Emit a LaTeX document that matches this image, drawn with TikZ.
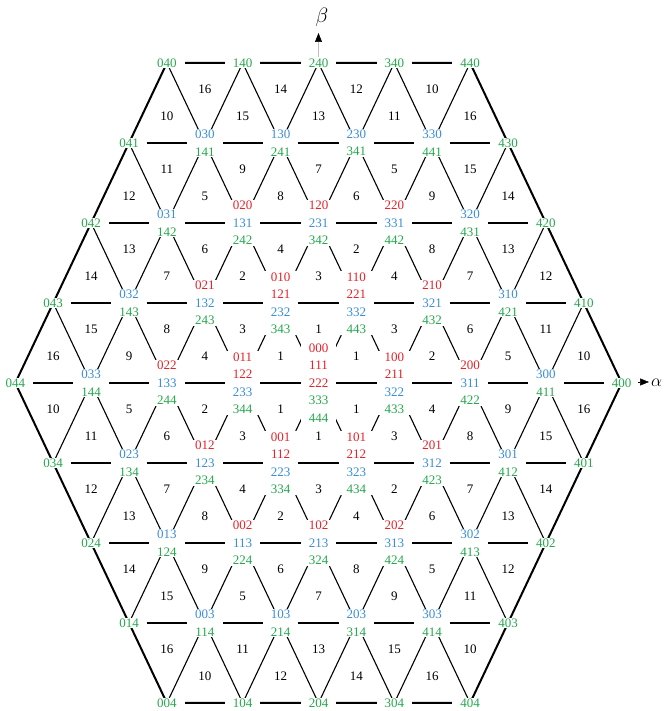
\documentclass[tikz,border=0pt]{standalone}
\usepackage{fontspec}
\setmainfont{Liberation Serif}
\usetikzlibrary{arrows.meta}
\definecolor{vr}{RGB}{232,32,40}
\definecolor{vb}{RGB}{58,142,214}
\definecolor{vg}{RGB}{38,168,78}
\newcommand\cR[1]{\textcolor{vr}{#1}}
\newcommand\cB[1]{\textcolor{vb}{#1}}
\newcommand\cG[1]{\textcolor{vg}{#1}}
\newcommand\vxx[3]{\coordinate (v#1#2#3) at ({318.5+75.8*(#1-(#2+#3)/2)},{328+80*(#2-#3)});}
\newcommand\vlab[2]{\node[lab] (n#1) at (v#1) {#2};}
\newcommand\vA[1]{\vlab{#1}{\cG{#1}}}
\newcommand\vB[2]{\vlab{#1}{\cB{#1}\\\cG{#2}}}
\newcommand\vC[3]{\vlab{#1}{\cR{#1}\\\cB{#2}\\\cG{#3}}}
\newcommand\vD[4]{\vlab{#1}{\cR{#1}\\\cR{#2}\\\cB{#3}\\\cG{#4}}}
\newcommand\tn[5]{\node[num] (s#1n#5) at (barycentric cs:v#2=1,v#3=1,v#4=1) {#5};}
\tikzset{
  inner/.style={line width=1.1pt},
  outer/.style={line width=2pt},
  lab/.style={fill=white, inner xsep=8pt, inner ysep=1pt, align=center, font=\fontsize{13}{17.5}\selectfont},
  num/.style={font=\fontsize{13}{15}\selectfont, inner sep=0pt},
}
\begin{document}
\begin{tikzpicture}[x=1pt,y=1pt]
\useasboundingbox (0,0) rectangle (665,711);
% vertices
\vxx040\vxx140\vxx240\vxx340\vxx440
\vxx041\vxx030\vxx130\vxx230\vxx330\vxx430
\vxx042\vxx031\vxx020\vxx120\vxx220\vxx320\vxx420
\vxx043\vxx032\vxx021\vxx010\vxx110\vxx210\vxx310\vxx410
\vxx044\vxx033\vxx022\vxx011\vxx000\vxx100\vxx200\vxx300\vxx400
\vxx034\vxx023\vxx012\vxx001\vxx101\vxx201\vxx301\vxx401
\vxx024\vxx013\vxx002\vxx102\vxx202\vxx302\vxx402
\vxx014\vxx003\vxx103\vxx203\vxx303\vxx403
\vxx004\vxx104\vxx204\vxx304\vxx404
% lattice lines
\draw[inner] (v041)--(v430) (v042)--(v420) (v043)--(v410) (v044)--(v400)
  (v034)--(v401) (v024)--(v402) (v014)--(v403);
\draw[inner] (v034)--(v140) (v024)--(v240) (v014)--(v340) (v004)--(v440)
  (v104)--(v430) (v204)--(v420) (v304)--(v410);
\draw[inner] (v401)--(v340) (v402)--(v240) (v403)--(v140) (v404)--(v040)
  (v304)--(v041) (v204)--(v042) (v104)--(v043);
\draw[outer] (v040)--(v440)--(v400)--(v404)--(v004)--(v044)--cycle;
% labels
\vA{040}\vA{140}\vA{240}\vA{340}\vA{440}
\vA{041}\vB{030}{141}\vB{130}{241}\vB{230}{341}\vB{330}{441}\vA{430}
\vA{042}\vB{031}{142}\vC{020}{131}{242}\vC{120}{231}{342}\vC{220}{331}{442}\vB{320}{431}\vA{420}
\vA{043}\vB{032}{143}\vC{021}{132}{243}\vD{010}{121}{232}{343}\vD{110}{221}{332}{443}\vC{210}{321}{432}\vB{310}{421}\vA{410}
\vA{044}\vB{033}{144}\vC{022}{133}{244}\vD{011}{122}{233}{344}\vlab{000}{\cR{000}\\\cR{111}\\\cR{222}\\\cG{333}\\\cG{444}}\vD{100}{211}{322}{433}\vC{200}{311}{422}\vB{300}{411}\vA{400}
\vA{034}\vB{023}{134}\vC{012}{123}{234}\vD{001}{112}{223}{334}\vD{101}{212}{323}{434}\vC{201}{312}{423}\vB{301}{412}\vA{401}
\vA{024}\vB{013}{124}\vC{002}{113}{224}\vC{102}{213}{324}\vC{202}{313}{424}\vB{302}{413}\vA{402}
\vA{014}\vB{003}{114}\vB{103}{214}\vB{203}{314}\vB{303}{414}\vA{403}
\vA{004}\vA{104}\vA{204}\vA{304}\vA{404}
% triangle numbers, sector 1
\tn1{000}{100}{110}{1}\tn1{110}{210}{100}{3}\tn1{100}{200}{210}{2}\tn1{210}{310}{200}{6}
\tn1{200}{300}{310}{5}\tn1{310}{410}{300}{11}\tn1{300}{400}{410}{10}\tn1{110}{210}{220}{4}
\tn1{220}{320}{210}{8}\tn1{210}{310}{320}{7}\tn1{320}{420}{310}{13}\tn1{310}{410}{420}{12}
\tn1{220}{320}{330}{9}\tn1{330}{430}{320}{15}\tn1{320}{420}{430}{14}\tn1{330}{430}{440}{16}
% sector 2
\tn2{010}{110}{000}{1}\tn2{020}{120}{010}{4}\tn2{010}{110}{120}{3}\tn2{120}{220}{110}{2}
\tn2{030}{130}{020}{9}\tn2{020}{120}{130}{8}\tn2{130}{230}{120}{7}\tn2{120}{220}{230}{6}
\tn2{230}{330}{220}{5}\tn2{040}{140}{030}{16}\tn2{030}{130}{140}{15}\tn2{140}{240}{130}{14}
\tn2{130}{230}{240}{13}\tn2{240}{340}{230}{12}\tn2{230}{330}{340}{11}\tn2{340}{440}{330}{10}
% sector 3
\tn3{044}{033}{043}{16}\tn3{043}{032}{033}{15}\tn3{033}{022}{032}{9}\tn3{032}{021}{022}{8}
\tn3{022}{011}{021}{4}\tn3{021}{010}{011}{3}\tn3{011}{000}{010}{1}\tn3{043}{032}{042}{14}
\tn3{042}{031}{032}{13}\tn3{032}{021}{031}{7}\tn3{031}{020}{021}{6}\tn3{021}{010}{020}{2}
\tn3{042}{031}{041}{12}\tn3{041}{030}{031}{11}\tn3{031}{020}{030}{5}\tn3{041}{030}{040}{10}
% sector 4
\tn4{044}{033}{034}{10}\tn4{034}{023}{033}{11}\tn4{033}{022}{023}{5}\tn4{023}{012}{022}{6}
\tn4{022}{011}{012}{2}\tn4{012}{001}{011}{3}\tn4{011}{000}{001}{1}\tn4{034}{023}{024}{12}
\tn4{024}{013}{023}{13}\tn4{023}{012}{013}{7}\tn4{013}{002}{012}{8}\tn4{012}{001}{002}{4}
\tn4{024}{013}{014}{14}\tn4{014}{003}{013}{15}\tn4{013}{002}{003}{9}\tn4{014}{003}{004}{16}
% sector 5
\tn5{001}{101}{000}{1}\tn5{002}{102}{001}{2}\tn5{001}{101}{102}{3}\tn5{102}{202}{101}{4}
\tn5{003}{103}{002}{5}\tn5{002}{102}{103}{6}\tn5{103}{203}{102}{7}\tn5{102}{202}{203}{8}
\tn5{203}{303}{202}{9}\tn5{004}{104}{003}{10}\tn5{003}{103}{104}{11}\tn5{104}{204}{103}{12}
\tn5{103}{203}{204}{13}\tn5{204}{304}{203}{14}\tn5{203}{303}{304}{15}\tn5{304}{404}{303}{16}
% sector 6
\tn6{000}{100}{101}{1}\tn6{101}{201}{100}{3}\tn6{100}{200}{201}{4}\tn6{201}{301}{200}{8}
\tn6{200}{300}{301}{9}\tn6{301}{401}{300}{15}\tn6{300}{400}{401}{16}\tn6{101}{201}{202}{2}
\tn6{202}{302}{201}{6}\tn6{201}{301}{302}{7}\tn6{302}{402}{301}{13}\tn6{301}{401}{402}{14}
\tn6{202}{302}{303}{5}\tn6{303}{403}{302}{11}\tn6{302}{402}{403}{12}\tn6{303}{403}{404}{10}
% axes
\coordinate (btip) at (318.5,678);
\draw[gray!50, line width=0.5pt, -{Triangle[length=9pt,width=7pt,color=black]}] (n240.north) -- (btip);
\node[font=\fontsize{20}{20}\selectfont, inner sep=0pt] (beta) at (322,694) {$\beta$};
\coordinate (aS) at (638,329);
\coordinate (aE) at (649,329);
\draw[line width=0.5pt, -{Triangle[length=9pt,width=7pt]}] (aS) -- (aE);
\node[font=\fontsize{19}{19}\selectfont, anchor=west, inner sep=0pt] (alpha) at (651,328) {$\alpha$};
\end{tikzpicture}
\end{document}
